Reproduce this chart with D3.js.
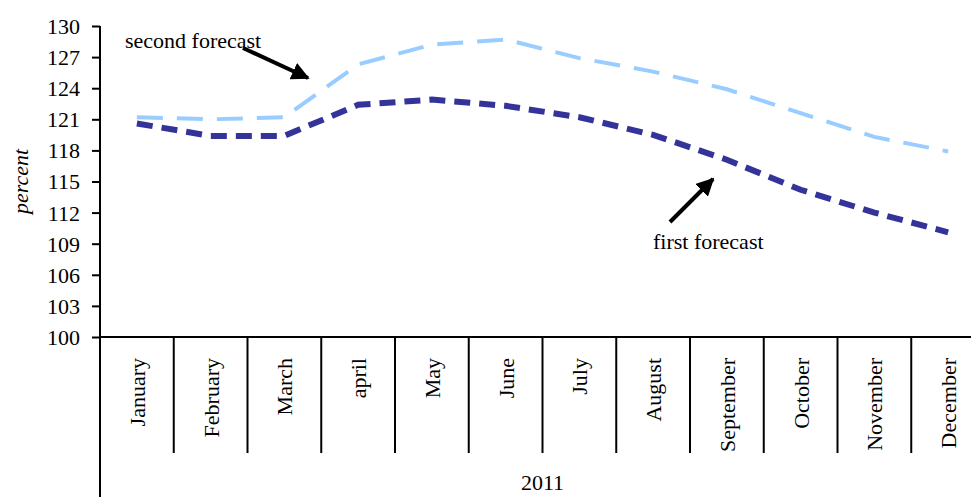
<!DOCTYPE html>
<html>
<head>
<meta charset="utf-8">
<script src="https://cdn.jsdelivr.net/npm/d3@7"></script>
<style>
  body { margin: 0; background: #fff; }
  svg text { fill: #000; }
</style>
</head>
<body>
<div id="chart"></div>
<script>
// values
const months = ["January", "February", "March", "april", "May", "June", "July",
  "August", "September", "October", "November", "December"];
const firstForecast = [120.6, 119.4, 119.4, 122.4, 122.9, 122.3, 121.2, 119.5, 117.1, 114.2, 112.0, 110.1];
const secondForecast = [121.2, 121.0, 121.2, 126.3, 128.2, 128.7, 126.9, 125.6, 123.9, 121.6, 119.3, 117.9];
const yTicks = [100, 103, 106, 109, 112, 115, 118, 121, 124, 127, 130];
const yearLabel = "2011";

const font = "'Liberation Serif', Tinos, 'Times New Roman', 'DejaVu Serif', serif";
const width = 971, height = 497;
const margin = { left: 100, top: 26, right: -14, bottom: 160 };

const svg = d3.select("#chart").append("svg")
  .attr("width", width)
  .attr("height", height)
  .attr("font-family", font);

const x = d3.scaleBand()
  .domain(months)
  .range([margin.left, width - margin.right]);

const y = d3.scaleLinear()
  .domain([100, 130])
  .range([height - margin.bottom, margin.top]);

const y0 = y(100);

// y axis
const yAxis = svg.append("g")
  .attr("transform", "translate(" + margin.left + ",0)")
  .call(d3.axisLeft(y).tickValues(yTicks).tickSize(8).tickPadding(12).tickSizeOuter(0));
yAxis.attr("font-family", font).attr("font-size", 22);
yAxis.select(".domain").remove();
yAxis.selectAll(".tick line").attr("stroke", "#000").attr("stroke-width", 2);
yAxis.selectAll(".tick text").attr("dy", "0.34em");

svg.append("line")
  .attr("x1", margin.left).attr("x2", margin.left)
  .attr("y1", margin.top).attr("y2", height)
  .attr("stroke", "#000").attr("stroke-width", 2);

// x axis: top line + band separators
svg.append("line")
  .attr("x1", margin.left).attr("x2", width)
  .attr("y1", y0).attr("y2", y0)
  .attr("stroke", "#000").attr("stroke-width", 2);

svg.selectAll(".sep")
  .data(months.slice(1))
  .enter().append("line")
  .attr("class", "sep")
  .attr("x1", d => x(d)).attr("x2", d => x(d))
  .attr("y1", y0).attr("y2", y0 + 116)
  .attr("stroke", "#000").attr("stroke-width", 2);

svg.selectAll(".month")
  .data(months)
  .enter().append("text")
  .attr("class", "month")
  .attr("transform", d => "translate(" + (x(d) + x.bandwidth() / 2 + 8) + "," + (y0 + 21) + ") rotate(-90)")
  .attr("text-anchor", "end")
  .attr("font-size", 22)
  .text(d => d);

svg.append("text")
  .attr("x", (x.range()[0] + x.range()[1]) / 2)
  .attr("y", 490)
  .attr("text-anchor", "middle")
  .attr("font-size", 22)
  .text(yearLabel);

svg.append("text")
  .attr("transform", "translate(28," + ((margin.top + y0) / 2) + ") rotate(-90)")
  .attr("text-anchor", "middle")
  .attr("font-size", 22)
  .attr("font-style", "italic")
  .text("percent");

// lines
const line = d3.line()
  .x((d, i) => x(months[i]) + x.bandwidth() / 2)
  .y(d => y(d));

svg.append("path")
  .datum(secondForecast)
  .attr("fill", "none")
  .attr("stroke", "#99CCFF")
  .attr("stroke-width", 4)
  .attr("stroke-dasharray", "26,14")
  .attr("d", line);

svg.append("path")
  .datum(firstForecast)
  .attr("fill", "none")
  .attr("stroke", "#333399")
  .attr("stroke-width", 6)
  .attr("stroke-dasharray", "16,9")
  .attr("d", line);

// annotations
svg.append("defs").append("marker")
  .attr("id", "arrow")
  .attr("viewBox", "0 0 10 10")
  .attr("refX", 9).attr("refY", 5)
  .attr("markerWidth", 4.5).attr("markerHeight", 4.5)
  .attr("orient", "auto")
  .append("path")
  .attr("d", "M0,0 L10,5 L0,10 z")
  .attr("fill", "#000");

svg.append("text")
  .attr("x", 125).attr("y", 48)
  .attr("font-size", 22)
  .text("second forecast");

svg.append("line")
  .attr("x1", 243).attr("y1", 48)
  .attr("x2", 308).attr("y2", 78)
  .attr("stroke", "#000").attr("stroke-width", 4)
  .attr("marker-end", "url(#arrow)");

svg.append("text")
  .attr("x", 653).attr("y", 249)
  .attr("font-size", 22)
  .text("first forecast");

svg.append("line")
  .attr("x1", 670).attr("y1", 222)
  .attr("x2", 713).attr("y2", 179)
  .attr("stroke", "#000").attr("stroke-width", 4)
  .attr("marker-end", "url(#arrow)");
</script>
</body>
</html>
